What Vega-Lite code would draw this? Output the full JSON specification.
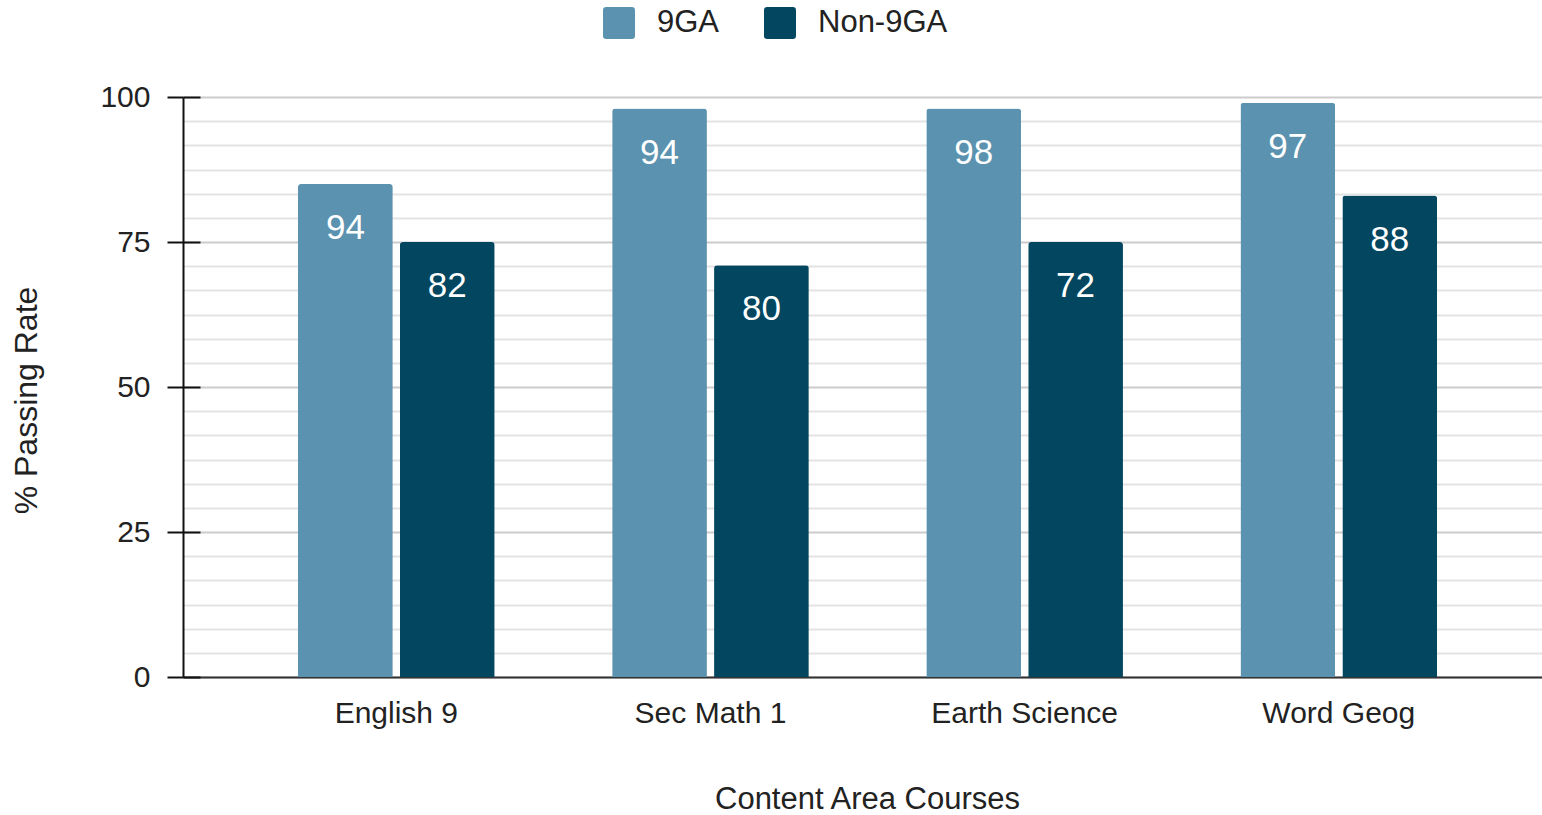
{
  "$schema": "https://vega.github.io/schema/vega-lite/v6.json",
  "width": 1359,
  "height": 580,
  "autosize": "none",
  "padding": {"left": 183, "top": 97, "right": 0, "bottom": 138},
  "background": "white",
  "config": {"view": {"stroke": null}},
  "data": {
    "values": [
      {"course": "English 9", "group": "9GA", "value": 85, "label": 94},
      {"course": "English 9", "group": "Non-9GA", "value": 75, "label": 82},
      {"course": "Sec Math 1", "group": "9GA", "value": 98, "label": 94},
      {"course": "Sec Math 1", "group": "Non-9GA", "value": 71, "label": 80},
      {"course": "Earth Science", "group": "9GA", "value": 98, "label": 98},
      {"course": "Earth Science", "group": "Non-9GA", "value": 75, "label": 72},
      {"course": "Word Geog", "group": "9GA", "value": 99, "label": 97},
      {"course": "Word Geog", "group": "Non-9GA", "value": 83, "label": 88}
    ]
  },
  "encoding": {
    "x": {
      "field": "course",
      "type": "nominal",
      "sort": ["English 9", "Sec Math 1", "Earth Science", "Word Geog"],
      "scale": {"paddingInner": 0.374, "paddingOuter": 0.35, "align": 0.523},
      "axis": {
        "title": "Content Area Courses",
        "labelAngle": 0,
        "labelLimit": 0,
        "ticks": false,
        "domainColor": "#333333",
        "domainWidth": 2,
        "labelFont": "Liberation Sans",
        "labelFontSize": 30,
        "labelColor": "#222222",
        "labelPadding": 21,
        "titleFont": "Liberation Sans",
        "titleFontSize": 31,
        "titleFontWeight": "normal",
        "titleColor": "#222222",
        "titleBaseline": "alphabetic",
        "titleY": 131,
        "titleX": 684
      }
    },
    "xOffset": {
      "field": "group",
      "type": "nominal",
      "sort": ["9GA", "Non-9GA"],
      "scale": {"paddingInner": 0.07}
    }
  },
  "layer": [
    {
      "mark": {"type": "bar", "cornerRadiusTopLeft": 3, "cornerRadiusTopRight": 3},
      "encoding": {
        "y": {
          "field": "value",
          "type": "quantitative",
          "scale": {"domain": [0, 100], "nice": false},
          "axis": {
            "values": [0, 4.1667, 8.3333, 12.5, 16.6667, 20.8333, 25, 29.1667, 33.3333, 37.5, 41.6667, 45.8333, 50, 54.1667, 58.3333, 62.5, 66.6667, 70.8333, 75, 79.1667, 83.3333, 87.5, 91.6667, 95.8333, 100],
            "grid": true,
            "gridColor": {"condition": {"test": "datum.value % 25 === 0", "value": "#cccccc"}, "value": "#e3e3e3"},
            "gridWidth": 2,
            "domain": false,
            "ticks": false,
            "labels": false,
            "title": null
          }
        },
        "color": {
          "field": "group",
          "type": "nominal",
          "scale": {"domain": ["9GA", "Non-9GA"], "range": ["#5b92af", "#03465f"]},
          "legend": {
            "title": null,
            "orient": "none",
            "direction": "horizontal",
            "legendX": 420,
            "legendY": -90,
            "symbolType": "M-0.8,-1H0.8Q1,-1 1,-0.8V0.8Q1,1 0.8,1H-0.8Q-1,1 -1,0.8V-0.8Q-1,-1 -0.8,-1Z",
            "symbolSize": 1024,
            "symbolStrokeWidth": 0,
            "symbolOpacity": 1,
            "labelFont": "Liberation Sans",
            "labelFontSize": 31,
            "labelColor": "#222222",
            "labelOffset": 22,
            "columnPadding": 44,
            "padding": 0
          }
        }
      }
    },
    {
      "mark": {"type": "text", "dy": 44, "baseline": "middle", "align": "center", "fontSize": 35, "color": "white", "font": "Liberation Sans"},
      "encoding": {
        "y": {
          "field": "value",
          "type": "quantitative",
          "scale": {"domain": [0, 100], "nice": false},
          "axis": {
            "orient": "left",
            "values": [0, 25, 50, 75, 100],
            "grid": true,
            "gridColor": "#111111",
            "gridDash": [17, 3000],
            "gridWidth": 2,
            "zindex": 1,
            "domain": true,
            "domainColor": "#111111",
            "domainWidth": 2,
            "ticks": true,
            "tickColor": "#111111",
            "tickWidth": 2,
            "tickSize": 16,
            "labelFont": "Liberation Sans",
            "labelFontSize": 30,
            "labelColor": "#222222",
            "labelPadding": 17,
            "title": "% Passing Rate",
            "titleFont": "Liberation Sans",
            "titleFontSize": 32,
            "titleFontWeight": "normal",
            "titleColor": "#222222",
            "titleAngle": -90,
            "titleAlign": "center",
            "titleBaseline": "alphabetic",
            "titleX": -147,
            "titleY": 303
          }
        },
        "text": {"field": "label", "type": "quantitative"}
      }
    }
  ],
  "resolve": {"scale": {"y": "independent"}}
}
